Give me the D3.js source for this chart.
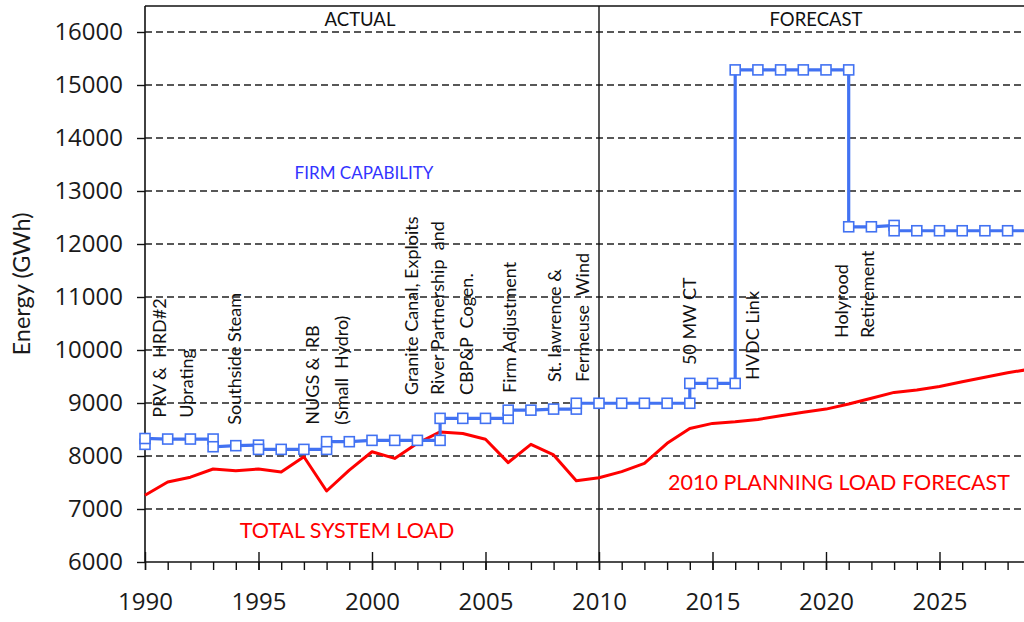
<!DOCTYPE html>
<html>
<head>
<meta charset="utf-8">
<script src="https://cdn.jsdelivr.net/npm/d3@7"></script>
<style>
  body { margin: 0; background: #fff; }
  svg { display: block; font-family: Lato, "Open Sans", sans-serif; }
</style>
</head>
<body>
<div id="chart"></div>
<script>
// Firm capability (step series: repeated year = step)
const capYears = [1990, 1990, 1991, 1992, 1993, 1993, 1994, 1995, 1995, 1996, 1997, 1998, 1998, 1999, 2000,
  2001, 2002, 2003, 2003, 2004, 2005, 2006, 2006, 2007, 2008, 2009, 2009, 2010, 2011, 2012, 2013, 2014, 2014,
  2015, 2016, 2016, 2017, 2018, 2019, 2020, 2021, 2021, 2022, 2023, 2023, 2024, 2025, 2026, 2027, 2028, 2029, 2030];
const capValues = [8220, 8330, 8320, 8320, 8320, 8175, 8195, 8205, 8125, 8125, 8125, 8125, 8270, 8270, 8295,
  8295, 8295, 8295, 8710, 8710, 8710, 8710, 8865, 8865, 8885, 8885, 8995, 8995, 8995, 8995, 8995, 8995, 9370,
  9370, 9370, 15285, 15285, 15285, 15285, 15285, 15285, 12325, 12325, 12350, 12250, 12250, 12250, 12250, 12250, 12250, 12250, 12250];

// Total system load (actual to 2009, forecast after)
const loadYears = [1990, 1991, 1992, 1993, 1994, 1995, 1996, 1997, 1998, 1999, 2000, 2001, 2002, 2003, 2004,
  2005, 2006, 2007, 2008, 2009, 2010, 2011, 2012, 2013, 2014, 2015, 2016, 2017, 2018, 2019, 2020, 2021, 2022,
  2023, 2024, 2025, 2026, 2027, 2028, 2029, 2030];
const loadValues = [7260, 7510, 7600, 7755, 7720, 7755, 7700, 7985, 7340, 7735, 8080, 7955, 8240, 8455, 8425,
  8315, 7875, 8220, 8020, 7535, 7590, 7705, 7860, 8240, 8520, 8615, 8645, 8690, 8760, 8825, 8885, 8980, 9090,
  9200, 9245, 9310, 9400, 9485, 9570, 9640, 9720];

const yTicks = [6000, 7000, 8000, 9000, 10000, 11000, 12000, 13000, 14000, 15000, 16000];
const xTicks = [1990, 1995, 2000, 2005, 2010, 2015, 2020, 2025];

// Event annotations: [year, base value, text]
const notes = [
  [1990.66, 8720, "PRV &  HRD#2"],
  [1991.85, 8720, "Uprating"],
  [1993.96, 8590, "Southside Steam"],
  [1997.4, 8590, "NUGS &  RB"],
  [1998.68, 8590, "(Small  Hydro)"],
  [2001.76, 9150, "Granite Canal, Exploits"],
  [2002.9, 9150, "River Partnership  and"],
  [2004.19, 9150, "CBP&P  Cogen."],
  [2006.08, 9190, "Firm Adjustment"],
  [2008.06, 9395, "St. lawrence &"],
  [2009.3, 9395, "Fermeuse  Wind"],
  [2014.0, 9715, "50 MW CT"],
  [2016.78, 9435, "HVDC Link"],
  [2020.7, 10225, "Holyrood"],
  [2021.85, 10225, "Retirement"]
];

const width = 1024, height = 622;
const plotLeft = 145, plotTop = 6, plotBottom = 562;
const tickFont = "'Open Sans', sans-serif";

const x = d3.scaleLinear().domain([1990, 2030]).range([plotLeft, plotLeft + 40 * 22.7]);
const y = d3.scaleLinear().domain([6000, 16000]).range([plotBottom, 32]);

const svg = d3.select("#chart").append("svg")
  .attr("width", width).attr("height", height);

// gridlines
svg.append("g")
  .selectAll("line")
  .data(yTicks.slice(1))
  .join("line")
  .attr("x1", plotLeft).attr("x2", width)
  .attr("y1", d => y(d)).attr("y2", d => y(d))
  .attr("stroke", "#222").attr("stroke-width", 1.4)
  .attr("stroke-dasharray", "7,4");

// y axis
const yAxis = svg.append("g")
  .attr("transform", `translate(${plotLeft},0)`)
  .call(d3.axisLeft(y).tickValues(yTicks).tickSize(8).tickPadding(14).tickFormat(d3.format("d")));
yAxis.select(".domain").remove();
yAxis.selectAll(".tick line").attr("stroke", "#111").attr("stroke-width", 1.4);
yAxis.selectAll("text").attr("font-size", 24).attr("fill", "#1a1a1a").attr("font-family", tickFont);

// x axis: minor ticks each year, major every 5
const minor = svg.append("g")
  .attr("transform", `translate(0,${plotBottom})`)
  .call(d3.axisBottom(x).tickValues(d3.range(1990, 2030)).tickSize(8).tickFormat(""));
minor.select(".domain").remove();
minor.selectAll(".tick line").attr("stroke", "#111").attr("stroke-width", 1.4);

const major = svg.append("g")
  .attr("transform", `translate(0,${plotBottom})`)
  .call(d3.axisBottom(x).tickValues(xTicks).tickSize(8).tickPadding(23).tickFormat(d3.format("d")));
major.select(".domain").remove();
major.selectAll(".tick line").attr("y1", -10).attr("stroke", "#111").attr("stroke-width", 1.4);
major.selectAll("text").attr("font-size", 24).attr("fill", "#1a1a1a").attr("font-family", tickFont);

// frame lines
svg.append("line").attr("x1", plotLeft).attr("x2", width).attr("y1", plotBottom).attr("y2", plotBottom)
  .attr("stroke", "#111").attr("stroke-width", 1.6);
svg.append("line").attr("x1", plotLeft).attr("x2", width).attr("y1", plotTop).attr("y2", plotTop)
  .attr("stroke", "#111").attr("stroke-width", 1.4);
svg.append("line").attr("x1", plotLeft).attr("x2", plotLeft).attr("y1", plotTop).attr("y2", plotBottom)
  .attr("stroke", "#111").attr("stroke-width", 1.6);
svg.append("line").attr("x1", x(2010)).attr("x2", x(2010)).attr("y1", plotTop).attr("y2", plotBottom)
  .attr("stroke", "#111").attr("stroke-width", 1.4);

// y label
svg.append("text")
  .attr("transform", "translate(22,284) rotate(-90)")
  .attr("text-anchor", "middle").attr("dy", "0.35em")
  .attr("font-size", 23.5).attr("fill", "#1a1a1a")
  .text("Energy (GWh)");

svg.append("text").attr("x", 360).attr("y", 20).attr("dy", "0.35em")
  .attr("text-anchor", "middle").attr("font-size", 18.5).attr("fill", "#111").text("ACTUAL");
svg.append("text").attr("x", 816).attr("y", 20).attr("dy", "0.35em")
  .attr("text-anchor", "middle").attr("font-size", 18.5).attr("fill", "#111").text("FORECAST");

// annotations
svg.append("g")
  .selectAll("text")
  .data(notes)
  .join("text")
  .attr("transform", d => `translate(${x(d[0])},${y(d[1])}) rotate(-90)`)
  .attr("dy", "0.35em")
  .attr("font-size", 18).attr("fill", "#111")
  .style("white-space", "pre")
  .text(d => d[2]);

// load line
const loadPts = loadYears.map((yr, i) => [yr, loadValues[i]]);
svg.append("path")
  .datum(loadPts)
  .attr("fill", "none").attr("stroke", "#ff0000").attr("stroke-width", 3)
  .attr("stroke-linejoin", "round")
  .attr("d", d3.line().x(d => x(d[0])).y(d => y(d[1])));

// capability line
const capPts = capYears.map((yr, i) => [yr, capValues[i]]);
svg.append("path")
  .datum(capPts)
  .attr("fill", "none").attr("stroke", "#4272f2").attr("stroke-width", 3.2)
  .attr("d", d3.line().x(d => x(d[0])).y(d => y(d[1])));

svg.append("g")
  .selectAll("rect")
  .data(capPts)
  .join("rect")
  .attr("x", d => x(d[0]) - 5).attr("y", d => y(d[1]) - 5)
  .attr("width", 10).attr("height", 10)
  .attr("fill", "#fff").attr("stroke", "#4272f2").attr("stroke-width", 1.6);

// series labels
svg.append("text").attr("x", 364).attr("y", 173).attr("dy", "0.35em")
  .attr("text-anchor", "middle").attr("font-size", 17).attr("fill", "#3333ff").text("FIRM CAPABILITY");
svg.append("text").attr("x", 347).attr("y", 530).attr("dy", "0.35em")
  .attr("text-anchor", "middle").attr("font-size", 21.5).attr("fill", "#ff0000").text("TOTAL SYSTEM LOAD");
svg.append("text").attr("x", 839).attr("y", 482).attr("dy", "0.35em")
  .attr("text-anchor", "middle").attr("font-size", 21.5).attr("fill", "#ff0000").text("2010 PLANNING LOAD FORECAST");
</script>
</body>
</html>
